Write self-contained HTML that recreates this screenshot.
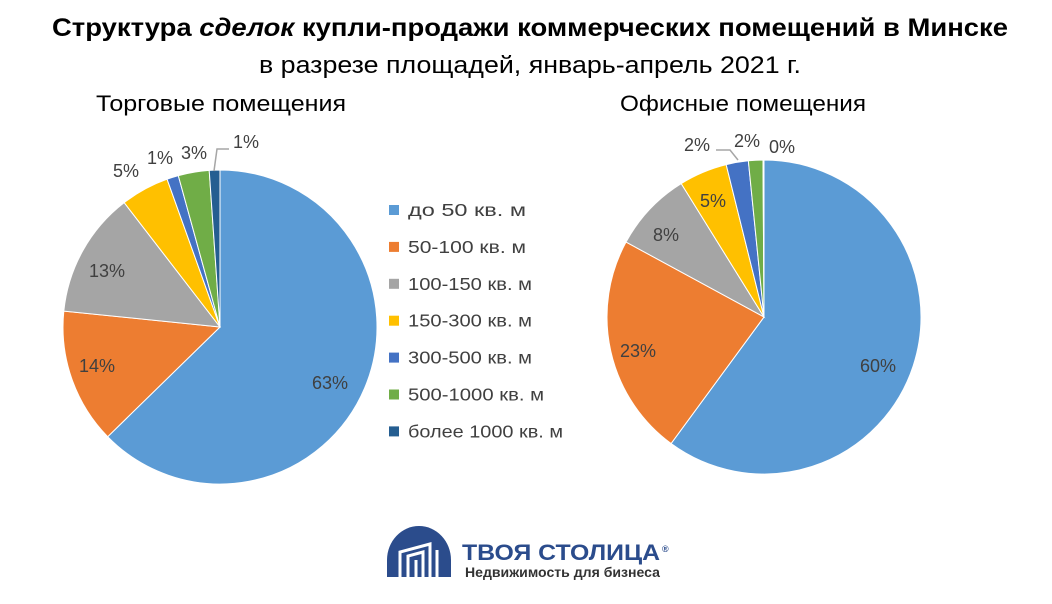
<!DOCTYPE html>
<html><head><meta charset="utf-8"><style>
html,body{margin:0;padding:0;background:#fff;width:1052px;height:604px;overflow:hidden}
svg text{font-family:"Liberation Sans",sans-serif}
</style></head><body>
<svg id="s" width="1052" height="604" viewBox="0 0 1052 604" xmlns="http://www.w3.org/2000/svg">
<text x="530" y="36" text-anchor="middle" font-size="25" font-weight="bold" textLength="956" lengthAdjust="spacingAndGlyphs">Структура <tspan font-style="italic">сделок</tspan> купли-продажи коммерческих помещений в Минске</text>
<text x="530" y="73" text-anchor="middle" font-size="24" textLength="542" lengthAdjust="spacingAndGlyphs">в разрезе площадей, январь-апрель 2021 г.</text>
<text x="96" y="111" font-size="22" textLength="250" lengthAdjust="spacingAndGlyphs">Торговые помещения</text>
<text x="620" y="111" font-size="22" textLength="246" lengthAdjust="spacingAndGlyphs">Офисные помещения</text>
<g id="p1"></g><g id="p2"></g>
<g font-size="18" fill="#404040">
<text x="312" y="389">63%</text><text x="79" y="372">14%</text><text x="89" y="277">13%</text>
<text x="113" y="177">5%</text><text x="147" y="164">1%</text><text x="181" y="159">3%</text><text x="233" y="148">1%</text>
<text x="860" y="372">60%</text><text x="620" y="357">23%</text><text x="653" y="241">8%</text>
<text x="700" y="207">5%</text><text x="684" y="151">2%</text><text x="734" y="147">2%</text><text x="769" y="153">0%</text>
</g>
<polyline points="214,171 217,149 229,149" fill="none" stroke="#a6a6a6" stroke-width="1.5"/>
<polyline points="738,160 730,150 716,150" fill="none" stroke="#a6a6a6" stroke-width="1.5"/>
<g font-size="17.5" fill="#404040" id="leg"></g>
<path d="M387,577 L387,560 A32,34 0 0 1 451,560 L451,577 Z" fill="#2b4c8c"/>
<g fill="none" stroke="#fff" stroke-width="3">
<polyline points="400,577 400,552 430,544 430,577"/>
<polyline points="408,577 408,556 423,552 423,577"/>
<line x1="416" y1="577" x2="416" y2="560"/>
<line x1="437" y1="577" x2="437" y2="550"/>
</g>
<text x="462" y="560" font-size="22" font-weight="bold" fill="#2b4c8c" textLength="198" lengthAdjust="spacingAndGlyphs">ТВОЯ СТОЛИЦА</text>
<text x="662" y="552" font-size="9" font-weight="bold" fill="#2b4c8c">®</text>
<text x="465" y="577" font-size="14" font-weight="bold" fill="#333" textLength="195" lengthAdjust="spacingAndGlyphs">Недвижимость для бизнеса</text>
</svg>
<script>
var cols=["#5b9bd5","#ed7d31","#a5a5a5","#ffc000","#4472c4","#70ad47","#255e91"];
function pie(id,cx,cy,r,vals){var g=document.getElementById(id),a=0,t=vals.reduce(function(x,y){return x+y},0),h="";
vals.forEach(function(v,i){var b=a+v/t*2*Math.PI;if(v>0){var x1=cx+r*Math.sin(a),y1=cy-r*Math.cos(a),x2=cx+r*Math.sin(b),y2=cy-r*Math.cos(b);
h+='<path d="M'+cx+','+cy+' L'+x1+','+y1+' A'+r+','+r+' 0 '+((b-a)>Math.PI?1:0)+' 1 '+x2+','+y2+' Z" fill="'+cols[i]+'" stroke="#fff" stroke-width="1"/>';}a=b;});g.innerHTML=h;}
pie("p1",220,327,157,[63,14,13,5,1.2,3.2,1.1]);
pie("p2",764,317,157,[60.5,23,8.3,5,2.3,1.5,0.1]);
var L=["до 50 кв. м","50-100 кв. м","100-150 кв. м","150-300 кв. м","300-500 кв. м","500-1000 кв. м","более 1000 кв. м"],W=[118,118,124,124,124,136,155],h="";
L.forEach(function(s,i){var y=210+i*36.9;h+='<rect x="389" y="'+(y-5)+'" width="10" height="10" fill="'+cols[i]+'"/><text x="408" y="'+(y+6)+'" textLength="'+W[i]+'" lengthAdjust="spacingAndGlyphs">'+s+'</text>';});
document.getElementById("leg").innerHTML=h;
</script>
</body></html>
